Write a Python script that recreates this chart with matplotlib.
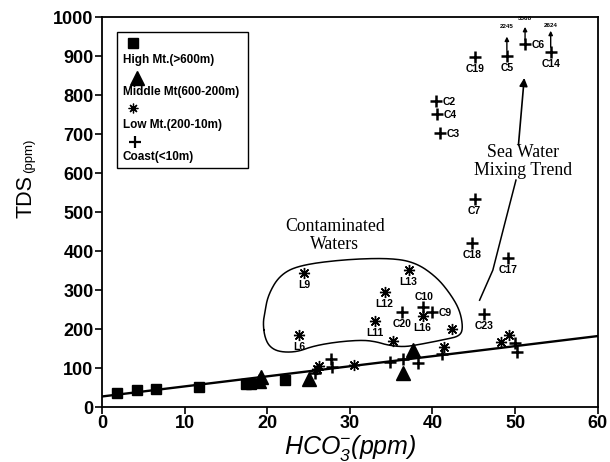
import numpy as np
import matplotlib
matplotlib.use("Agg")
import matplotlib.pyplot as plt
from matplotlib.patches import Rectangle

plt.rcParams['font.family'] = ['Liberation Sans', 'DejaVu Sans']
plt.rcParams['mathtext.fontset'] = 'custom'
plt.rcParams['mathtext.rm'] = 'Liberation Sans:italic'
plt.rcParams['mathtext.it'] = 'Liberation Sans:italic'

# --- data (HCO3 ppm, TDS ppm) ---
high_x = [1.8, 4.3, 6.5, 11.7, 17.4, 18.1, 22.1]
high_y = [36, 44, 46, 52, 60, 58, 70]

mid_x = [19.3, 19.0, 25.0, 37.6, 36.4]
mid_y = [78, 68, 72, 145, 88]

low_x = [24.5, 37.1, 34.2, 33.0, 38.8, 23.9, 42.4, 35.2, 41.4, 26.0, 26.3, 30.5, 49.2, 48.3]
low_y = [344, 351, 296, 221, 233, 184, 199, 170, 153, 97, 104, 108, 185, 167]
low_names = ['L9', 'L13', 'L12', 'L11', 'L16', 'L6', '', '', '', '', '', '', '', '']

coast_x = [40.4, 40.5, 40.9, 45.2, 49.0, 51.2, 54.3, 45.1, 44.8, 49.1, 46.2, 36.3, 38.8, 39.9,
           27.7, 27.9, 25.8, 34.9, 36.4, 38.3, 41.2, 50.0, 50.2]
coast_y = [785, 751, 703, 897, 900, 930, 911, 533, 420, 382, 238, 243, 256, 244,
           123, 102, 87, 115, 122, 114, 135, 164, 141]
coast_names = ['C2', 'C4', 'C3', 'C19', 'C5', 'C6', 'C14', 'C7', 'C18', 'C17', 'C23', 'C20', 'C10', 'C9',
               '', '', '', '', '', '', '', '', '']
label_right = ['C2', 'C4', 'C3', 'C6', 'C9']
label_above = ['C10']

# off-scale values for C5, C6, C14
offscale_x = [49.0, 51.2, 54.3]
offscale_y0 = [915, 941, 923]
offscale_y1 = [950, 975, 965]
offscale_text = ['2245', '3568', '2624']
offscale_ty = [975, 997, 978]

trend_x = [0, 60]
trend_y = [27, 182]

# outline round the contaminated waters
blob_x = [19.5, 19.7, 20.3, 21.5, 23.6, 25.5, 28.4, 31.6, 33.3, 34.5, 36.4, 38.1, 41.7, 43.3,
          43.7, 43.3, 42.1, 40.5, 38.1, 35.2, 29.6, 23.9, 21.5, 20.1, 19.7]
blob_y = [215, 179, 154, 141, 141, 156, 167, 172, 167, 159, 154, 159, 174, 182,
          203, 249, 292, 333, 369, 382, 379, 364, 338, 287, 241]

# sea water mixing trend arrow
sea_x = [45.7, 47.3, 48.7, 50.1]
sea_y = [274, 351, 467, 582]
sea_arrow_x = [50.4, 51.1]
sea_arrow_y = [672, 844]


def chaikin(x, y, n=4):
    pts = np.column_stack([x, y]).astype(float)
    for _ in range(n):
        nxt = np.roll(pts, -1, axis=0)
        q = 0.75 * pts + 0.25 * nxt
        r = 0.25 * pts + 0.75 * nxt
        pts = np.empty((2 * len(q), 2))
        pts[0::2] = q
        pts[1::2] = r
    pts = np.vstack([pts, pts[:1]])
    return pts[:, 0], pts[:, 1]


fig = plt.figure(figsize=(6.10, 4.62), dpi=100)
ax = fig.add_axes([0.167, 0.119, 0.813, 0.844])

ax.plot(trend_x, trend_y, color='black', lw=1.7, zorder=2)

bx, by = chaikin(blob_x, blob_y)
ax.plot(bx, by, color='black', lw=1.1, zorder=2)

ax.plot(high_x, high_y, 's', color='black', ms=7, zorder=3)
ax.plot(mid_x, mid_y, '^', color='black', ms=10, zorder=3)
ax.plot(low_x, low_y, marker=(8, 2, 0), ls='none', color='black', ms=8, mew=1.0, zorder=3)
ax.plot(coast_x, coast_y, '+', color='black', ms=9, mew=1.8, zorder=3)

lab = dict(fontsize=7.5, fontweight='bold', color='black')
for x, y, n in zip(low_x, low_y, low_names):
    if n:
        ax.annotate(n, (x, y), xytext=(0, -5), textcoords='offset points',
                    ha='center', va='top', **lab)
for x, y, n in zip(coast_x, coast_y, coast_names):
    if not n:
        continue
    if n in label_right:
        ax.annotate(n, (x, y), xytext=(5, -0.5), textcoords='offset points',
                    ha='left', va='center', **lab)
    elif n in label_above:
        ax.annotate(n, (x, y), xytext=(1, 4), textcoords='offset points',
                    ha='center', va='bottom', **lab)
    else:
        ax.annotate(n, (x, y), xytext=(0, -5), textcoords='offset points',
                    ha='center', va='top', **lab)

for x, y0, y1, t, ty in zip(offscale_x, offscale_y0, offscale_y1, offscale_text, offscale_ty):
    ax.annotate('', xy=(x, y1), xytext=(x, y0),
                arrowprops=dict(arrowstyle='-|>', color='black', lw=1.0,
                                mutation_scale=6, shrinkA=0, shrinkB=0))
    ax.text(x, ty, t, fontsize=4.5, fontweight='bold', ha='center', va='center')

ax.plot(sea_x, sea_y, color='black', lw=1.1)
ax.annotate('', xy=(sea_arrow_x[1], sea_arrow_y[1]), xytext=(sea_arrow_x[0], sea_arrow_y[0]),
            arrowprops=dict(arrowstyle='-|>', color='black', lw=1.2,
                            mutation_scale=12, shrinkA=0, shrinkB=0))

serif = dict(family=['Liberation Serif', 'DejaVu Serif'], fontsize=12.8, ha='center', va='center',
             linespacing=1.1)
ax.text(28.2, 440, 'Contaminated\nWaters', **serif)
ax.text(50.9, 630, 'Sea Water\nMixing Trend', **serif)

# legend: marker on one line, text on the next
ax.add_patch(Rectangle((0.030, 0.613), 0.264, 0.349, transform=ax.transAxes,
                       fill=False, ec='black', lw=1.0, zorder=4))
leg = [('s', 7, 1.0, 0.0625, 0.933, 'High Mt.(>600m)', 0.890),
       ('^', 10, 1.0, 0.071, 0.843, 'Middle Mt(600-200m)', 0.808),
       ((8, 2, 0), 7, 0.9, 0.0625, 0.767, 'Low Mt.(200-10m)', 0.723),
       ('+', 8, 1.6, 0.067, 0.679, 'Coast(<10m)', 0.641)]
for m, ms, mew, mx, my, t, ty in leg:
    ax.plot([mx], [my], marker=m, ms=ms, mew=mew, color='black', ls='none',
            transform=ax.transAxes, zorder=5)
    ax.text(0.042, ty, t, transform=ax.transAxes, fontsize=8.5, fontweight='bold',
            ha='left', va='center', zorder=5)

ax.set_xlim(0, 60)
ax.set_ylim(0, 1000)
ax.set_xticks(np.arange(0, 61, 10))
ax.set_yticks(np.arange(0, 1001, 100))
ax.tick_params(direction='out', length=5, width=1.2, labelsize=13, pad=1)
for t in ax.get_xticklabels() + ax.get_yticklabels():
    t.set_fontweight('bold')
for s in ax.spines.values():
    s.set_linewidth(1.3)

fig.text(0.575, 0.03, r'HCO$_3^{-}$(ppm)', fontsize=18, fontstyle='italic',
         ha='center', va='center')
fig.text(0.042, 0.575, 'TDS', fontsize=15.5, rotation=90, ha='center', va='center')
fig.text(0.048, 0.662, '(ppm)', fontsize=9.5, rotation=90, ha='center', va='center')

fig.savefig('out.png', dpi=100)
